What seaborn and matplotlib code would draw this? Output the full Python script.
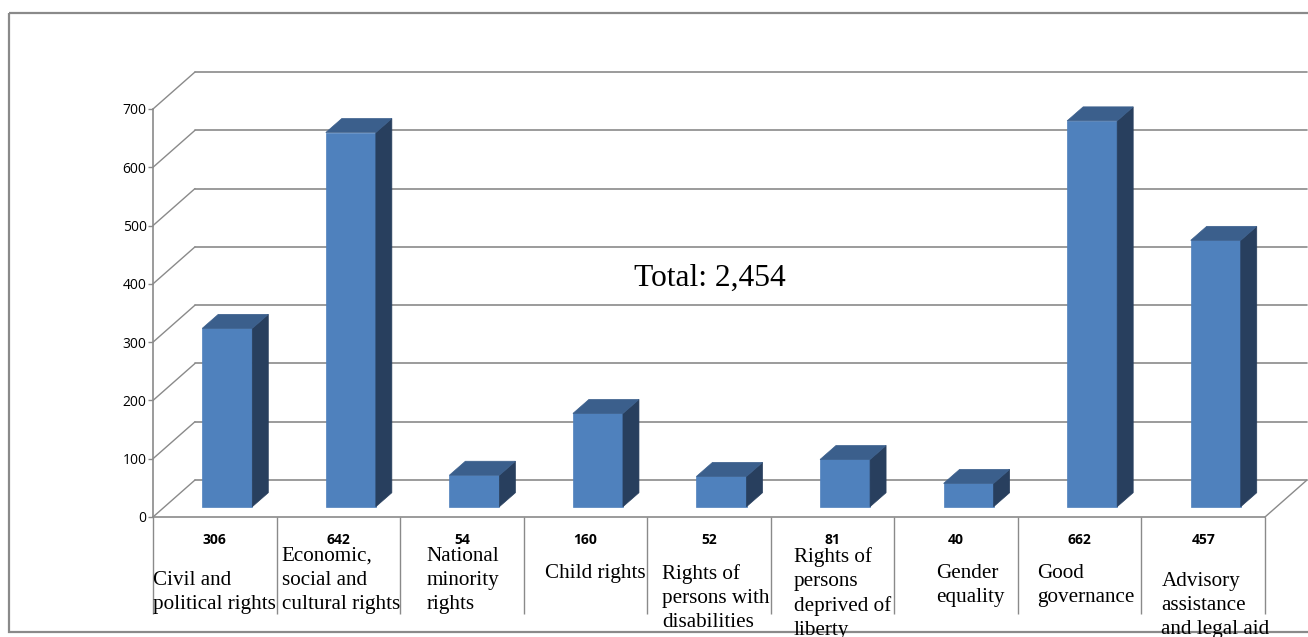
import matplotlib
matplotlib.use("Agg")
import matplotlib.pyplot as plt
import seaborn as sns
import pandas as pd
from matplotlib.patches import Polygon, Rectangle
from matplotlib.transforms import Affine2D, blended_transform_factory, offset_copy

# ---- data -------------------------------------------------------------
categories = [
    "Civil and\npolitical rights",
    "Economic,\nsocial and\ncultural rights",
    "National\nminority\nrights",
    "Child rights",
    "Rights of\npersons with\ndisabilities",
    "Rights of\npersons\ndeprived of\nliberty",
    "Gender\nequality",
    "Good\ngovernance",
    "Advisory\nassistance\nand legal aid",
]
counts = [306, 642, 54, 160, 52, 81, 40, 662, 457]
y_ticks = [0, 100, 200, 300, 400, 500, 600, 700]

# ---- layout / style ---------------------------------------------------
W, H = 1308, 637
FRONT, SIDE, TOP = "#4F81BD", "#283F5E", "#3B5F8C"
GRID = "#8a8a8a"

# plot box (front plane) in pixels
L, R, B, T = 153, 1265, 517, 109
DEPTH = (42, 37)          # floor / wall depth vector (px, right & up)
BAR_FRONT = (12.5, 10.3)  # bar front face offset inside the depth
BAR_BACK = (28.5, 24.3)   # bar back face offset

# category label placement: left offset inside each cell, top of first line
label_dx = [0, 5, 26, 21, 15, 23, 42, 19, 20]
label_top = [571, 547, 547, 564, 564, 547, 564, 564, 572]

sns.set_theme(style="white")
plt.rcParams["font.family"] = ["Open Sans", "DejaVu Sans"]

fig = plt.figure(figsize=(W / 100, H / 100), dpi=100)
fig.patch.set_facecolor("white")
px = Affine2D().scale(1 / W, -1 / H).translate(0, 1) + fig.transFigure

# outer chart frame
fig.add_artist(Rectangle((9, 13), 1330, 619, transform=px, fill=False,
                         edgecolor=GRID, lw=1.6, zorder=-1))

ax = fig.add_axes([L / W, 1 - B / H, (R - L) / W, (B - T) / H])
ax.patch.set_alpha(0)

df = pd.DataFrame({"category": categories, "count": counts})
sns.barplot(data=df, x="category", y="count", color=FRONT, saturation=1,
            width=0.405, ax=ax, zorder=3)

n = len(categories)
ax.set_xlim(-0.5, n - 0.5)
ax.set_ylim(y_ticks[0], y_ticks[-1])
kx = n / (R - L)
ky = (y_ticks[-1] - y_ticks[0]) / (B - T)

# back wall gridlines, left-wall diagonals and floor edges
dxw, dyw = DEPTH[0] * kx, DEPTH[1] * ky
for t in y_ticks:
    ax.plot([-0.5 + dxw, n - 0.5 + dxw], [t + dyw, t + dyw], color=GRID,
            lw=1.2, clip_on=False, zorder=1)
    ax.plot([-0.5, -0.5 + dxw], [t, t + dyw], color=GRID, lw=1.0,
            clip_on=False, zorder=1)
ax.plot([n - 0.5, n - 0.5 + dxw], [0, dyw], color=GRID, lw=1.0,
        clip_on=False, zorder=1)

# extrude each seaborn bar into a box
fx, fy = BAR_FRONT[0] * kx, BAR_FRONT[1] * ky
bx, by = BAR_BACK[0] * kx, BAR_BACK[1] * ky
for p in ax.patches:
    x0, w, h = p.get_x(), p.get_width(), p.get_height()
    p.set_x(x0 + fx)
    p.set_y(fy)
    p.set_edgecolor(FRONT)
    p.set_linewidth(0.5)
    p.set_clip_on(False)
    x0f, x1f = x0 + fx, x0 + w + fx
    x0b, x1b = x0 + bx, x0 + w + bx
    side = Polygon([(x1f, fy), (x1f, h + fy), (x1b, h + by), (x1b, by)],
                   closed=True, facecolor=SIDE, edgecolor=SIDE, lw=0.5,
                   clip_on=False, zorder=3)
    top = Polygon([(x0f, h + fy), (x1f, h + fy), (x1b, h + by), (x0b, h + by)],
                  closed=True, facecolor=TOP, edgecolor=TOP, lw=0.5,
                  clip_on=False, zorder=3)
    ax.add_patch(side)
    ax.add_patch(top)

# axes styling
for s in ("top", "right"):
    ax.spines[s].set_visible(False)
for s in ("left", "bottom"):
    ax.spines[s].set_color(GRID)
    ax.spines[s].set_linewidth(1.2)
ax.set_xlabel("")
ax.set_ylabel("")

ax.set_yticks(y_ticks)
ax.set_yticklabels([str(t) for t in y_ticks], fontsize=10, color="black")
ax.tick_params(axis="y", length=3.6, width=1, color=GRID, pad=1, left=True)

ax.set_xticks(range(n))
ax.set_xticklabels([str(v) for v in counts], fontsize=10,
                   fontweight="bold", color="black")
ax.set_xticks([i - 0.5 for i in range(n + 1)], minor=True)
ax.tick_params(axis="x", which="major", length=0, pad=11.8, bottom=True)
ax.tick_params(axis="x", which="minor", length=70, width=1, color=GRID,
               direction="out", bottom=True)

# category names below the value labels
lab_trans = blended_transform_factory(ax.transData, px)
for i, name in enumerate(categories):
    tr = offset_copy(lab_trans, x=label_dx[i], y=0, units="dots", fig=fig)
    ax.text(i - 0.5, label_top[i], name, transform=tr, ha="left", va="top",
            multialignment="left", fontsize=15.2, family="Liberation Serif",
            color="black", linespacing=1.36, clip_on=False)

# total annotation
fig.text(710, 286, f"Total: {sum(counts):,}", transform=px, ha="center",
         va="baseline", fontsize=22.7, family="Liberation Serif",
         color="black")

fig.savefig("out.png", dpi=100, facecolor="white")
